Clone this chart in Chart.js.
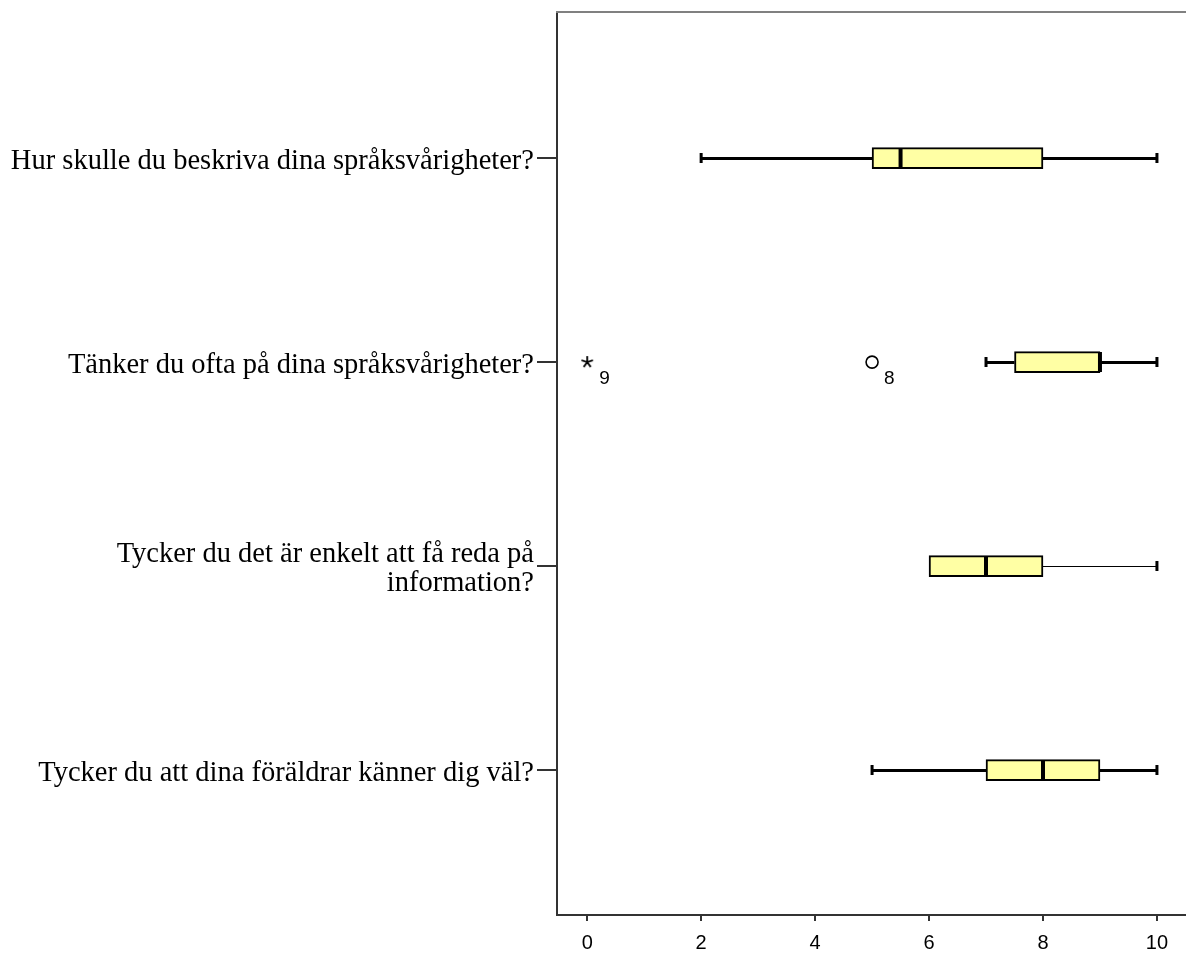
<!DOCTYPE html>
<html>
<head>
<meta charset="utf-8">
<script src="https://cdn.jsdelivr.net/npm/chart.js@4"></script>
<style>
  html, body { margin: 0; padding: 0; background: #fff; }
  canvas { display: block; }
</style>
</head>
<body>
<canvas id="boxChart" width="1186" height="954"></canvas>
<script>
// frågor (kategorier), uppifrån och ned
const fragor = [
    'Hur skulle du beskriva dina språksvårigheter?',
    'Tänker du ofta på dina språksvårigheter?',
    ['Tycker du det är enkelt att få reda på', 'information?'],
    'Tycker du att dina föräldrar känner dig väl?'
];
// lådagrammets värden per fråga
const minVarden = [2, 7, 6, 5];
const q1Varden = [5, 7.5, 6, 7];
const medianer = [5.5, 9, 7, 8];
const q3Varden = [8, 9, 8, 9];
const maxVarden = [10, 10, 10, 10];
// avvikande värden: fråga, värde, fallnummer
const avvikareFraga = [1, 1];
const avvikareVarde = [5, 0];
const avvikareFall = ['8', '9'];
const xTicks = [0, 2, 4, 6, 8, 10];

const morhorrBredd = [3, 3, 1, 3];

// asterisk för extremvärden
const asterisk = document.createElement('canvas');
asterisk.width = 14;
asterisk.height = 14;
(function () {
    const c = asterisk.getContext('2d');
    c.strokeStyle = '#000';
    c.lineWidth = 1.8;
    c.beginPath();
    for (let k = 0; k < 5; k++) {
        const a = -Math.PI / 2 + k * 2 * Math.PI / 5;
        c.moveTo(7, 7);
        c.lineTo(7 + 6 * Math.cos(a), 7 + 6 * Math.sin(a));
    }
    c.stroke();
})();

const ctx = document.getElementById('boxChart').getContext('2d');

const ladDelar = {
    id: 'ladDelar',
    beforeDatasetsDraw(chart) {
        const { ctx, scales: { x, y } } = chart;
        ctx.save();
        ctx.strokeStyle = '#000';
        fragor.forEach((f, i) => {
            const yc = Math.round(y.getPixelForValue(i)) + (morhorrBredd[i] % 2 ? 0.5 : 0);
            ctx.lineWidth = morhorrBredd[i];
            ctx.beginPath();
            if (minVarden[i] < q1Varden[i]) {
                ctx.moveTo(x.getPixelForValue(minVarden[i]), yc);
                ctx.lineTo(x.getPixelForValue(q1Varden[i]), yc);
            }
            if (maxVarden[i] > q3Varden[i]) {
                ctx.moveTo(x.getPixelForValue(q3Varden[i]), yc);
                ctx.lineTo(x.getPixelForValue(maxVarden[i]), yc);
            }
            ctx.stroke();
        });
        ctx.restore();
    },
    afterDatasetsDraw(chart) {
        const { ctx, scales: { x, y } } = chart;
        ctx.save();
        ctx.strokeStyle = '#000';
        fragor.forEach((f, i) => {
            const yc = Math.round(y.getPixelForValue(i));
            // ändstreck
            ctx.lineWidth = 3;
            ctx.beginPath();
            if (minVarden[i] < q1Varden[i]) {
                const xp = x.getPixelForValue(minVarden[i]);
                ctx.moveTo(xp, yc - 5); ctx.lineTo(xp, yc + 5);
            }
            if (maxVarden[i] > q3Varden[i]) {
                const xp = x.getPixelForValue(maxVarden[i]);
                ctx.moveTo(xp, yc - 5); ctx.lineTo(xp, yc + 5);
            }
            ctx.stroke();
            // median
            ctx.lineWidth = 4;
            ctx.beginPath();
            const xm = x.getPixelForValue(medianer[i]);
            ctx.moveTo(xm, yc - 10); ctx.lineTo(xm, yc + 10);
            ctx.stroke();
        });
        // fallnummer vid avvikare
        ctx.fillStyle = '#000';
        ctx.font = '19px "Liberation Sans", Arial, sans-serif';
        ctx.textAlign = 'left';
        ctx.textBaseline = 'middle';
        avvikareVarde.forEach((v, i) => {
            ctx.fillText(avvikareFall[i], x.getPixelForValue(v) + 12, y.getPixelForValue(avvikareFraga[i]) + 17);
        });
        // övre ramlinje
        const a = chart.chartArea;
        ctx.strokeStyle = '#808080';
        ctx.lineWidth = 2;
        ctx.beginPath();
        ctx.moveTo(a.left - 1, a.top);
        ctx.lineTo(a.right, a.top);
        ctx.stroke();
        ctx.restore();
    }
};

const boxChart = new Chart(ctx, {
    type: 'bar',
    data: {
        datasets: [{
            type: 'bar',
            data: fragor.map((f, i) => ({ x: [q1Varden[i], q3Varden[i]], y: i })),
            backgroundColor: '#ffffa4',
            borderColor: '#000',
            borderWidth: 2,
            borderSkipped: false,
            barThickness: 21
        }, {
            type: 'scatter',
            data: avvikareVarde.map((v, i) => ({ x: v, y: avvikareFraga[i] })),
            pointStyle: ['circle', asterisk],
            pointRadius: 6,
            pointBorderColor: '#000',
            pointBackgroundColor: 'rgba(0,0,0,0)',
            pointBorderWidth: 1.6,
            showLine: false
        }]
    },
    options: {
        responsive: false,
        animation: false,
        indexAxis: 'y',
        layout: { autoPadding: false, padding: { top: 12, right: 0, left: 0, bottom: 0 } },
        plugins: {
            legend: { display: false },
            tooltip: { enabled: false }
        },
        scales: {
            x: {
                type: 'linear',
                min: -0.53,
                max: 10.51,
                afterBuildTicks: scale => { scale.ticks = xTicks.map(v => ({ value: v })); },
                afterFit: scale => { scale.height = 39; },
                border: { display: true, color: '#333', width: 2 },
                grid: { drawOnChartArea: false, drawTicks: true, tickLength: 6, color: '#333', lineWidth: 2 },
                ticks: {
                    color: '#000',
                    padding: 10,
                    font: { family: '"Liberation Sans", Arial, sans-serif', size: 20 }
                }
            },
            y: {
                type: 'linear',
                reverse: true,
                offset: false,
                min: -0.716,
                max: 3.71,
                afterBuildTicks: scale => { scale.ticks = fragor.map((f, i) => ({ value: i })); },
                afterFit: scale => {
                    scale.width = 557;
                    scale.paddingTop = 0;
                    scale.paddingBottom = 0;
                },
                border: { display: true, color: '#333', width: 2 },
                grid: { offset: false, drawOnChartArea: false, drawTicks: true, tickLength: 20, color: '#333', lineWidth: 2 },
                ticks: {
                    color: '#000',
                    padding: 3,
                    labelOffset: 3,
                    font: { family: '"Liberation Serif", "Times New Roman", serif', size: 28.5, lineHeight: 1.02 },
                    callback: (value) => fragor[value]
                }
            }
        }
    },
    plugins: [ladDelar]
});
</script>
</body>
</html>
